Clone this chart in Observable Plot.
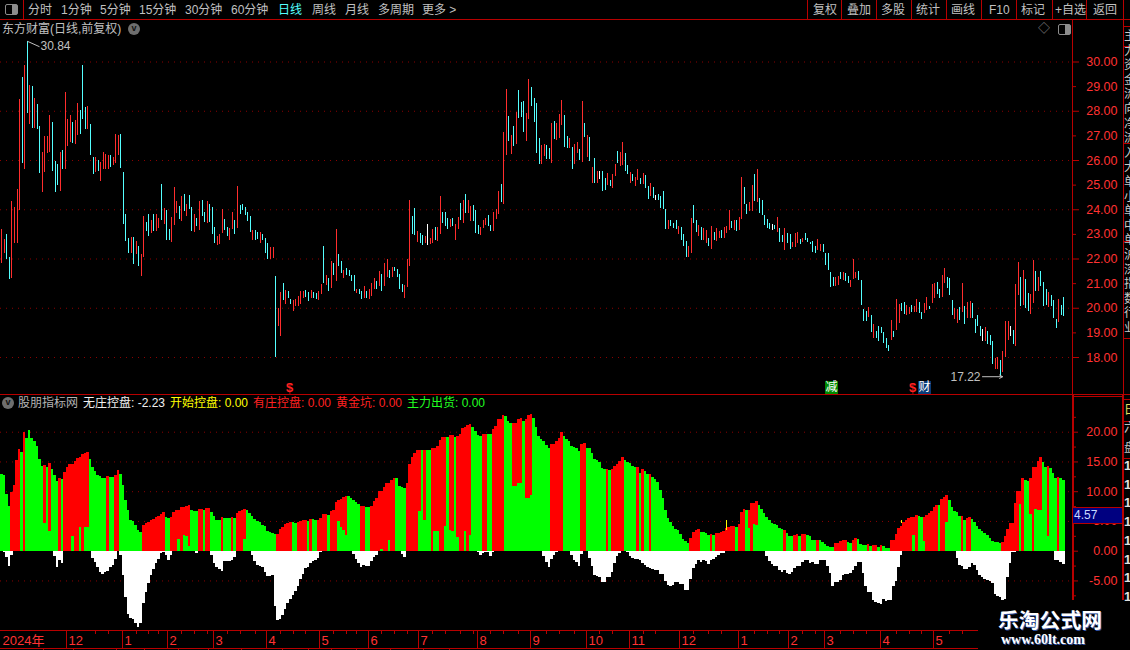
<!DOCTYPE html>
<html><head><meta charset="utf-8">
<script src="https://cdn.jsdelivr.net/npm/d3@7"></script>
<script src="https://cdn.jsdelivr.net/npm/@observablehq/plot@0.6"></script>
<style>
html,body{margin:0;padding:0;background:#000;width:1130px;height:650px;overflow:hidden}
#root{position:relative;width:1130px;height:650px;overflow:hidden;font-family:"Liberation Sans","Noto Sans CJK SC",sans-serif;font-size:12px}
.t{position:absolute;line-height:16px;white-space:nowrap}
.l{position:absolute;background:#b80000}
</style></head><body><div id="root"></div>
<script>
// ---------- daily candles (high / low / colour class) ----------
const highs=[23.19,22.78,22.99,22.07,24.33,24.10,24.82,28.46,29.37,29.85,30.84,29.04,29.0,28.53,28.26,27.4,26.34,26.96,26.96,27.81,27.53,25.95,25.82,26.34,26.39,28.75,27.65,27.81,27.53,27.61,28.3,28.02,29.85,28.14,28.18,27.45,26.11,26.14,26.0,25.9,26.34,26.26,26.2,26.22,26.11,27.04,27.0,27.04,25.53,23.82,22.84,22.88,22.88,22.72,22.51,22.19,23.74,23.49,23.82,23.57,23.82,23.82,23.65,25.03,24.06,23.98,23.2,23.7,24.92,24.35,24.14,24.55,24.63,24.23,24.59,24.1,23.82,23.65,24.35,24.39,23.9,24.35,24.23,24.1,23.29,22.92,23.0,24.02,23.61,23.29,23.25,23.9,23.57,24.96,24.18,24.23,24.1,23.9,23.74,23.17,23.17,23.08,23.08,23.0,22.84,22.64,22.47,22.47,21.29,19.99,
20.62,21.02,20.74,20.70,20.37,20.33,20.37,20.49,20.70,20.66,20.74,20.62,20.74,20.62,20.58,20.70,20.98,22.49,21.31,21.19,21.88,21.80,23.18,22.20,21.88,21.55,21.63,21.55,21.35,21.31,20.78,20.78,20.70,20.90,20.66,20.78,21.02,21.19,21.10,21.51,21.39,21.80,22.00,21.55,21.67,21.67,21.59,21.39,20.98,20.94,22.00,24.36,23.71,24.07,23.10,23.02,22.94,22.90,23.39,22.85,23.18,23.26,23.26,24.52,23.87,23.87,23.63,23.59,23.63,23.42,23.67,24.24,24.36,24.60,24.36,24.12,24.16,23.95,23.38,23.26,23.55,23.63,23.75,23.38,23.87,23.99,24.73,25.01,27.13,28.87,27.78,27.00,27.37,27.94,28.83,28.35,28.39,27.90,29.28,28.96,28.51,28.31,26.88,26.60,26.64,26.60,26.47,
27.49,27.57,27.49,27.86,28.43,27.82,26.96,26.88,26.52,26.64,26.72,26.43,28.39,27.49,27.00,26.92,25.70,26.07,25.54,25.54,25.54,25.25,25.46,25.17,25.42,25.82,26.35,26.31,26.72,26.27,25.78,25.50,25.42,25.29,25.62,25.25,25.46,25.38,24.93,25.05,24.89,24.56,24.60,24.52,24.73,23.99,23.55,23.55,23.46,23.55,23.34,23.26,22.98,22.73,22.49,23.63,24.16,23.55,23.38,23.26,23.22,23.14,22.85,23.34,23.06,23.22,23.10,23.14,23.26,23.34,23.95,23.51,23.55,23.55,23.67,25.29,24.89,24.20,24.28,24.97,25.42,25.62,24.44,24.36,23.75,23.59,23.46,23.42,23.38,23.67,23.22,22.94,23.22,23.02,22.98,22.65,23.02,23.06,22.81,22.85,23.02,22.85,22.69,22.73,22.49,22.81,
22.60,22.57,22.24,22.24,21.47,21.26,21.26,21.30,21.47,21.47,21.43,21.30,21.14,22.0,21.47,21.51,21.14,19.96,19.88,20.05,19.72,19.32,19.07,19.27,19.23,19.03,18.79,18.50,19.52,19.07,20.37,20.17,20.21,20.25,20.13,20.05,20.13,20.09,20.37,20.25,19.84,20.21,20.45,20.09,20.98,21.02,21.06,20.78,21.35,21.63,21.26,21.22,20.33,20.01,19.96,20.05,21.02,20.09,20.25,20.29,20.21,19.56,19.72,19.27,19.15,19.23,19.07,18.91,18.63,17.94,18.02,17.89,18.26,19.48,19.48,19.27,19.11,20.98,21.87,21.26,21.55,21.18,20.61,20.57,21.95,21.51,21.26,21.51,21.06,20.78,20.65,20.53,20.33,19.56,20.37,20.13,20.45];
const lows=[21.83,22.24,21.96,21.18,21.21,22.61,22.61,23.95,25.87,25.62,27.9,27.47,27.3,27.3,27.26,25.46,24.69,25.5,26.28,26.32,25.57,24.69,24.97,24.73,25.62,25.62,26.56,26.73,26.68,26.64,27.01,27.04,27.65,27.26,27.26,26.2,25.42,25.5,25.57,25.14,25.62,25.62,25.62,25.7,25.79,25.87,26.2,25.67,23.4,22.73,22.24,22.24,21.79,22.2,21.71,21.3,22.08,23.1,22.93,23.02,23.12,23.1,23.22,23.57,23.41,22.77,22.77,22.65,23.37,23.86,23.61,23.53,23.94,23.74,24.02,23.12,23.08,23.33,23.17,23.74,23.49,23.45,23.49,23.0,22.64,22.55,22.6,23.04,23.17,22.92,22.76,23.2,23.0,23.25,23.82,23.98,23.78,23.53,23.08,22.76,22.76,22.8,22.64,22.76,22.23,21.98,21.98,22.02,18.02,19.25,
18.87,20.33,20.17,20.41,20.17,19.88,20.09,20.09,20.17,20.41,20.45,20.29,20.41,20.41,20.37,20.33,20.54,21.02,20.94,20.70,20.82,21.35,21.10,21.71,21.43,21.19,21.35,21.27,21.10,20.66,20.58,20.54,20.37,20.41,20.41,20.37,20.49,20.78,20.78,20.90,20.70,20.90,21.23,21.19,21.23,21.51,21.23,20.78,20.62,20.41,20.86,21.71,22.98,22.94,22.65,22.61,22.53,22.61,22.53,22.57,22.61,22.77,22.73,22.98,23.46,23.30,23.18,23.26,23.30,22.77,23.18,23.55,23.46,23.83,23.83,23.51,23.51,23.02,22.98,22.94,23.22,23.38,23.34,23.10,23.10,23.59,23.79,24.28,24.20,26.19,26.76,26.23,26.56,26.64,27.69,27.74,27.13,26.76,27.65,28.18,27.53,26.27,25.82,25.82,26.15,26.03,26.03,
25.86,26.84,26.80,26.88,27.41,26.52,26.47,26.47,25.62,25.82,26.27,25.99,25.91,26.92,26.11,25.95,25.05,25.05,25.05,25.21,24.73,24.77,24.97,24.93,24.85,25.34,25.86,25.74,25.78,25.54,25.42,25.05,25.13,24.93,25.17,25.01,25.01,24.85,24.40,24.52,24.44,24.36,24.36,24.07,23.99,23.18,23.18,23.30,23.22,23.18,22.98,22.77,22.49,22.08,22.08,22.24,23.46,23.06,22.90,22.77,22.77,22.61,22.49,22.37,22.77,22.73,22.85,22.85,22.85,23.02,23.14,23.22,23.14,23.10,23.14,23.59,24.20,23.79,23.91,23.91,24.32,24.28,23.83,23.75,23.38,23.22,23.18,23.14,23.18,23.06,22.65,22.69,22.33,22.61,22.37,22.45,22.45,22.61,22.57,22.65,22.77,22.65,22.57,22.28,22.24,22.33,
22.32,22.28,21.75,21.55,20.86,20.90,20.90,20.94,21.18,21.14,21.10,21.02,20.86,21.18,21.22,21.14,20.13,19.48,19.48,19.64,19.03,18.79,18.79,18.63,18.99,18.58,18.38,18.26,18.71,18.83,19.11,19.40,19.88,19.76,19.72,19.76,19.84,19.84,19.84,19.80,19.56,19.80,19.92,19.96,20.21,20.41,20.57,20.41,20.45,21.02,20.82,20.53,19.72,19.56,19.40,19.52,19.84,19.36,19.60,19.60,19.60,18.99,19.27,18.87,18.67,18.67,18.54,18.50,17.73,17.53,17.53,17.22,17.41,17.98,18.71,18.87,18.54,18.46,20.53,20.09,20.13,20.01,19.88,19.76,20.21,20.70,20.70,20.90,20.09,20.13,20.05,20.09,19.60,19.19,19.44,19.72,19.68];
const kinds=("rrccrrrrcr crcrccrrrr cccrcrrrcr rcccrccrcr rrrcrrrccc crcrcrrccr crrcrccrrr crcrccrcrc crcccrrrcc rrcrcccccr ccrcccrrcr "
+"rcrccrrrrr ccrccrrcrc rcrccrcccc rccrcrrrcr crrcrccccr rrccrccrwr rcrrcccrcr rcrcrrcccr rrccrrrcrr crcrcccrrc cccrrcc "
+"rcrrrccrcr rcrcrcrcrw ccrcrrcrrc crcrrcrccr cwccccrccc rcccrrccrc rrcrcrrcrr rcrcrrccrr crcccccwcr ccrccrrrcr cccccr "
+"rcccccrrcr ccrrrccccr crccccccrc rrccrrcrrc crrcrrccrr cccrrcrcrr ccccwrcccr rcrrrwcrrc rccrrcrccc rcccrcc").replace(/\s/g,"");
// ---------- indicator panel ----------
const n=null;
const topVals=[12.9,12.8,9.5,7.5,9.9,11.0,15.2,17.1,16.6,20.0,18.9,20.3,18.9,18.4,17.6,15.4,14.3,14.4,14.1,14.7,13.7,12.7,11.7,12.2,12.0,13.2,14.1,14.6,14.6,15.1,15.5,15.7,16.3,16.5,16.6,15.4,14.1,13.4,12.8,12.5,12.3,12.3,12.5,12.4,12.4,12.8,13.6,12.9,11.0,8.6,6.8,5.2,5.0,4.4,3.5,3.1,4.4,4.6,4.9,5.1,5.3,5.7,5.9,6.1,6.5,5.7,5.5,5.7,6.5,6.8,6.8,7.3,7.3,7.5,7.7,6.8,6.7,6.6,7.0,7.0,6.8,7.2,7.2,6.5,5.8,5.1,5.1,5.7,5.5,5.5,5.5,5.7,5.5,6.3,6.6,6.8,7.0,6.8,6.3,5.8,5.3,5.0,4.8,4.3,4.1,3.3,3.1,3.0,2.8,2.8,3.6,4.0,4.5,4.6,4.9,4.8,4.6,4.9,5.0,5.1,5.1,5.0,5.3,5.3,5.1,5.1,5.5,6.1,6.1,6.0,6.7,6.8,8.2,8.5,8.7,9.0,9.2,9.2,8.9,8.5,8.2,7.8,7.5,7.5,7.3,7.3,7.5,8.3,8.9,10.0,10.0,10.7,11.4,11.4,11.9,12.2,12.2,10.9,10.7,10.5,11.4,14.5,15.7,16.4,16.9,17.0,16.9,16.9,16.9,16.9,17.2,17.3,17.6,18.6,19.1,19.1,19.1,19.4,19.4,19.1,19.3,19.6,20.6,20.8,21.1,21.3,20.8,20.1,19.4,19.3,19.6,19.6,19.6,19.6,20.4,21.0,22.1,22.1,22.8,22.6,21.8,21.5,21.5,21.5,22.1,22.3,21.8,22.1,22.8,23.0,22.3,20.8,19.3,18.8,18.4,17.8,17.3,17.9,18.0,18.4,18.9,19.9,19.3,18.8,18.4,17.6,17.4,17.3,16.8,17.9,18.1,17.3,17.3,16.4,15.4,15.2,14.9,13.9,13.7,13.7,13.6,13.7,14.2,14.6,15.1,15.7,15.2,14.9,14.7,14.2,14.1,14.1,13.1,13.7,13.4,12.9,12.9,12.4,12.0,11.5,10.2,8.9,6.8,5.5,4.8,4.1,3.6,3.5,2.8,2.0,1.6,1.3,2.1,3.1,3.5,3.6,3.1,3.1,3.0,2.6,2.8,2.6,3.0,3.0,3.1,3.3,3.8,4.0,4.1,4.1,4.0,4.5,6.5,7.0,6.8,6.8,8.0,8.0,8.3,7.7,7.0,6.3,5.7,5.2,4.6,4.5,4.3,3.8,3.6,3.5,3.0,2.5,2.5,2.6,2.8,2.5,2.8,2.8,2.6,2.5,1.8,1.8,1.8,1.8,1.5,1.1,0.8,0.7,0.7,1.3,1.3,1.6,1.8,1.8,1.5,1.3,1.8,2.1,2.0,1.1,1.0,1.0,1.1,0.8,1.0,1.0,0.7,1.0,0.8,0.4,0.4,1.8,1.8,2.8,3.8,4.1,4.8,5.2,5.5,5.7,5.7,6.0,5.8,5.7,5.7,6.0,6.3,6.7,7.3,7.7,7.7,8.7,9.0,9.4,8.5,7.3,6.7,6.5,5.8,5.8,5.2,5.5,5.7,5.3,4.8,4.1,3.6,3.3,3.0,2.6,2.1,1.6,1.5,1.5,1.3,1.5,2.5,3.6,4.6,4.6,8.0,10.0,10.0,12.2,11.9,11.7,12.2,14.1,14.1,15.1,15.7,14.9,14.1,14.2,13.9,13.1,12.2,12.4,12.2,11.9];
const redLows=[
n,n,n,n,0,0,0,0,n,0, n,n,n,n,n,n,n,4.6,n,3.3, n,n,n,0,n,0,0,0,2.5,0, 0,3.9,0,3.9,3.9,n,n,n,n,n,
n,n,0,n,n,0,0,n,n,n, n,n,n,n,n,n,0,0,0,0, 0,0,0,0,0,n,n,0,0,0, 2.0,0,2.6,2.4,0.8,n,n,n,0,0,
n,0,0,n,n,n,n,0,n,n, n,0,n,0,0,0,2.0,n,n,n, n,n,n,n,n,n,n,n,n,0, 0,0,0,0,0,n,n,0,0,0,
0,n,0,n,n,0,0,0,0,n, 0,0,0,5.0,4.0,3.5,2.6,n,n,n, n,n,0,0,n,n,0,0,0,0, 0.3,0,0,1.8,0,0,n,n,n,n,
0,0,0,0,0,6.7,n,5.2,n,n, 0,3.3,3.3,0,0,4.1,n,3.5,3.3,n, 2.3,0,0,3.3,0,2.6,n,n,n,n, 0,0,n,n,0,0,0,0,0,n,
n,n,10.9,10.9,11.4,11.4,n,8.9,8.9,9.4, n,n,n,n,n,n,n,0,0,0, 0,0,n,n,n,n,n,n,n,0, 0,n,n,n,n,n,n,n,n,0,
n,0,0,0,0,0,n,n,n,n, n,0,n,0,n,n,0,n,n,n, n,n,n,n,n,n,n,n,n,n, n,n,0,0,0,0,n,n,n,n,
0,n,0,0,0,0,0,0,0,0, n,0,0,0,n,3.8,0,4.5,4.3,n, n,n,n,n,n,n,n,n,n,0, n,n,n,0,0,n,0,0,n,n,
n,n,0,n,n,n,n,n,n,0, 0,0,0,0,n,n,0,0,n,n, n,n,0,n,0,0,n,0,n,n, n,0,0,0,0,0,0,0,0,0,
2.6,0,n,n,1.6,0,0,0,0,0, n,0,0,4.8,n,n,n,n,n,0, n,0,0,n,n,n,n,n,n,n, n,n,n,n,n,0,0,0,0,0,
0,0,7.8,0,n,n,6.2,0,7.0,6.8, 6.8,n,n,2.5,n,n,n,0,n,n];
const negVals=[
0,-0.2,-1.0,-2.6,-0.8,0,0,0,0,0, 0,0,0,0,0,0,0,0,0,0, 0,-0.9,-2.7,-1.6,-2.1,0,0,0,0,0, 0,0,0,0,0,0,-1.3,-1.9,-2.7,-3.6,
-3.9,-3.6,-3.4,-2.7,-2.4,-1.4,0,-0.7,-4.1,-7.8, -10.6,-11.3,-11.5,-12.2,-12.8,-12.2,-8.8,-6.9,-5.4,-4.1, -3.1,-2.1,-1.4,-0.4,-0.3,-0.7,-1.6,-0.7,0,0, 0,0,0,0,0,0,0,-0.4,0,0,
0,0,0,-0.7,-2.1,-2.7,-3.1,-3.4,-1.7,-1.7, -1.7,-1.6,-1.1,0,0,0,0,0,0,-0.7, -1.7,-2.4,-2.6,-2.7,-3.6,-4.3,-4.3,-4.1,-9.3,-11.7, -11.5,-10.8,-9.8,-8.8,-8.1,-7.5,-6.8,-5.9,-4.8,-3.9,
-2.9,-2.7,-2.1,-1.7,-1.6,-1.2,-0.2,0,0,0, 0,0,0,0,0,0,0,0,0,-0.6, -1.4,-2.1,-2.7,-2.4,-2.6,-2.6,-1.7,-1.1,-0.7,0, 0,0,0,0,0,0,0,0,-0.6,-1.1,
0,0,0,0,0,0,0,0,0,0, 0,0,0,0,0,0,0,0,0,0, 0,0,0,0,0,0,0,0,-0.2,-0.7, -0.4,-0.2,-0.2,-0.9,-0.2,0,0,0,0,0,
0,0,0,0,0,0,0,0,0,0, 0,0,0,0,-0.9,-1.9,-2.7,-1.4,-0.7,-0.2, 0,0,0,0,0,-0.7,-1.6,-1.9,-2.6,-0.6, 0,0,-1.2,-2.6,-4.1,-4.3,-4.4,-5.3,-5.3,-4.4,
-4.4,-3.6,-2.1,-0.9,-0.4,0,0,-0.3,-0.9,-1.2, -1.4,-1.4,-1.6,-2.1,-2.4,-2.7,-2.9,-3.1,-3.2,-3.2, -3.9,-3.9,-5.1,-5.8,-5.9,-5.8,-5.3,-5.3,-5.6,-5.6, -6.6,-6.6,-4.8,-2.9,-2.2,-1.6,-1.9,-1.6,-1.7,-2.2,
-1.6,-1.4,-1.1,-0.7,-0.4,-0.4,0,0,0,0, 0,0,0,0,0,0,0,0,0,0, 0,0,-0.9,-1.7,-2.2,-2.6,-2.6,-3.2,-3.6,-3.2, -3.8,-3.9,-3.6,-2.9,-2.6,-2.6,-1.9,-1.6,-1.6,-2.1,
-1.9,-2.2,-2.2,-1.6,-1.6,-1.6,-2.6,-3.8,-5.9,-5.3, -5.3,-4.9,-4.1,-3.9,-3.9,-3.8,-3.2,-2.6,-1.9,-1.9, -3.8,-5.9,-6.9,-6.9,-8.3,-8.6,-8.8,-9.0,-8.1,-8.5, -8.3,-8.3,-5.9,-5.1,-2.7,-0.7,0,0,0,0,
0,0,0,0,0,0,0,0,0,0, 0,0,0,0,0,0,0,-1.2,-2.4,-2.6, -3.1,-3.1,-2.7,-2.1,-2.4,-3.2,-4.1,-4.4,-4.8,-4.9, -5.1,-5.4,-7.3,-7.6,-7.8,-8.3,-8.1,-4.4,-2.1,-0.3,
-0.2,0,0,0,0,0,0,0,0,0, 0,0,0,0,0,0,-1.6,-1.6,-1.9,-2.23];
const yellowBars=[286,355], yellowTops=[5.2,5.1], yellowLows=[3.5,4.6];
// ---------- axes and labels ----------
const priceGrid=[18,20,22,24,26,28,30], priceOdd=[19,21,23,25,27,29];
const indTicks=[20,15,10,5,0,-5], indMinor=[22.5,17.5,12.5,7.5,2.5,-2.5,-7.5], indGrid=[20,15,10,5,-5];
const monthBars=[0,26,48,66,84,105,126,145,165,188,209,231,248,268,291,311,325,347,368];
const monthNames=["2024年","12","1","2","3","4","5","6","7","8","9","10","11","12","1","2","3","4","5"];
const weekBars=[37,42,53,58,62,71,76,81,89,94,100,110,115,120,131,136,140,150,155,160,170,175,181,186,193,198,204,215,220,226,236,241,253,258,273,279,284,297,302,307,316,321,331,336,341,353,358,363,374,379];
const toolsLeft=["分时","1分钟","5分钟","15分钟","30分钟","60分钟","日线","周线","月线","多周期","更多 >"];
const toolsRight=["复权","叠加","多股","统计","画线","F10","标记","+自选","返回"];
const legend=[["股朋指标网","#b4b4b4"],["无庄控盘: -2.23","#f0f0f0"],["开始控盘: 0.00","#ffff00"],["有庄控盘: 0.00","#ff2020"],["黄金坑: 0.00","#ff2020"],["主力出货: 0.00","#20ff20"]];

const RED="#ff3232",LINE="#b80000",DOT="#8c0000";
const root=document.getElementById("root");
const colorOf={r:"#ff2d2d",c:"#54ffff",w:"#ffffff"};
const bars=highs.map((h,i)=>({i,h,l:lows[i],c:colorOf[kinds[i]]||"#54ffff"}));
const cols=topVals.map((t,i)=>({i,t,r:redLows[i],w:negVals[i]}));
const xs={type:"linear",domain:[0,419],range:[1.3,1063.3],round:true,axis:null};
const base={width:1130,marginLeft:0,marginRight:58,marginTop:0,marginBottom:0,style:{background:"transparent",fontFamily:'"Liberation Sans","Noto Sans CJK SC",sans-serif',fontSize:"12px",overflow:"visible"}};
function add(svg,top){svg.style.position="absolute";svg.style.left="0";svg.style.top=top+"px";root.appendChild(svg);}
function text(s,x,cy,color,extra){const d=document.createElement("div");d.className="t";d.textContent=s;d.style.left=x+"px";d.style.top=(cy-8)+"px";d.style.color=color;if(extra)Object.assign(d.style,extra);root.appendChild(d);return d;}
function hl(x,y,w,c,h){const d=document.createElement("div");d.className="l";Object.assign(d.style,{left:x+"px",top:y+"px",width:w+"px",height:(h||1)+"px"});if(c)d.style.background=c;root.appendChild(d);}
function vl(x,y,h,c){const d=document.createElement("div");d.className="l";Object.assign(d.style,{left:x+"px",top:y+"px",width:"1px",height:h+"px"});if(c)d.style.background=c;root.appendChild(d);}
const gray="#c0c0c0";

// price panel
add(Plot.plot({...base,height:395,x:xs,y:{domain:[18,30],range:[357,61.5],axis:null},marks:[
  Plot.ruleY(priceGrid,{stroke:DOT,strokeDasharray:"1 5"}),
  Plot.ruleX(bars,{x:"i",y1:"l",y2:"h",stroke:"c",strokeWidth:1,shapeRendering:"crispEdges"}),
  Plot.axisY(priceGrid,{anchor:"right",tickSize:6,tickPadding:39,textAnchor:"end",tickFormat:d=>d.toFixed(2),stroke:LINE,fill:RED,fontSize:12.5,label:null}),
  Plot.axisY(priceOdd,{anchor:"right",tickSize:3,tickPadding:42,textAnchor:"end",tickFormat:d=>d.toFixed(2),stroke:LINE,fill:RED,fontSize:12.5,label:null}),
  Plot.text(["30.84"],{x:()=>10,y:()=>30.84,dx:13,dy:5,textAnchor:"start",fill:gray,fontSize:12}),
  Plot.link([0],{x1:()=>10,y1:()=>30.84,x2:()=>15,y2:()=>30.62,stroke:gray}),
  Plot.text(["17.22"],{x:()=>387,y:()=>17.22,dx:-2,textAnchor:"end",fill:gray,fontSize:12}),
  Plot.arrow([0],{x1:()=>387,y1:()=>17.22,x2:()=>394.8,y2:()=>17.22,stroke:gray,headLength:5,bend:0,strokeWidth:1}),
  Plot.dot(["减"],{x:()=>327.5,y:()=>16.78,symbol:"square",r:7.3,fill:"#008a00"}),
  Plot.text(["减"],{x:()=>327.5,y:()=>16.78,fill:"#fff",fontSize:12}),
  Plot.text(["$","$"],{x:(d,i)=>[113.7,359.5][i],y:()=>16.78,fill:"#ff2020",fontSize:13,fontWeight:"bold"}),
  Plot.dot(["财"],{x:()=>364,y:()=>16.78,symbol:"square",r:7.3,fill:"#0a3c78"}),
  Plot.text(["财"],{x:()=>364,y:()=>16.78,fill:"#fff",fontSize:12})
]}),0);

// indicator panel
add(Plot.plot({...base,height:236,x:xs,y:{domain:[0,20],range:[155.7,36.7],axis:null},marks:[
  Plot.ruleY(indGrid,{stroke:DOT,strokeDasharray:"1 5"}),
  Plot.rect(cols,{x1:d=>d.i-.5,x2:d=>d.i+.5,y1:()=>0,y2:"t",fill:"#00ff00",shapeRendering:"crispEdges"}),
  Plot.rect(cols.filter(d=>d.r!==null),{x1:d=>d.i-.5,x2:d=>d.i+.5,y1:"r",y2:"t",fill:"#ff0000",shapeRendering:"crispEdges"}),
  Plot.rect(cols.filter(d=>d.w<0),{x1:d=>d.i-.5,x2:d=>d.i+.5,y1:()=>0,y2:"w",fill:"#ffffff",shapeRendering:"crispEdges"}),
  Plot.ruleX(yellowBars,{x:d=>d,y1:(d,i)=>yellowLows[i],y2:(d,i)=>yellowTops[i],stroke:"#ffff00",shapeRendering:"crispEdges"}),
  Plot.axisY(indTicks,{anchor:"right",tickSize:5,tickPadding:40,textAnchor:"end",tickFormat:d=>d.toFixed(2),stroke:LINE,fill:RED,fontSize:12.5,label:null}),
  Plot.axisY(indMinor,{anchor:"right",tickSize:3,tickFormat:()=>"",stroke:LINE,label:null})
]}),395);

// date axis
add(Plot.plot({...base,marginRight:0,width:978,height:18,x:xs,y:{domain:[0,1],range:[0,17],axis:null},marks:[
  Plot.ruleX(monthBars.slice(1),{x:d=>d-.5,y1:()=>0,y2:()=>1,stroke:LINE,shapeRendering:"crispEdges"}),
  Plot.ruleX(weekBars,{x:d=>d,y1:()=>0,y2:()=>0.16,stroke:LINE,shapeRendering:"crispEdges"}),
  Plot.text(monthNames,{x:(d,i)=>monthBars[i]-.5,y:()=>.55,dx:2,textAnchor:"start",fill:RED,fontSize:13})
]}),631);

// frame lines
hl(0,19,1130);hl(0,394,1130);hl(1073,396,50);hl(0,630,978);hl(0,648,978);
vl(23,0,19);
[807,841,876,911,946,981,1016,1052,1086,1123].forEach(x=>vl(x,0,19));
vl(1072,20,375);vl(1072,395,205);vl(1073,395,205);vl(1123,20,580);vl(1122,395,205);
[26,46,143,241,338,399,421,458].forEach(y=>hl(1123,y,7));
[43,73,116,144,178,208,241,282,308,331,356,390,423,449].forEach(x=>hl(x,649,1,null,1));

// toolbar
const leftX=[28,61,100,139,185,231,278,312,345,378,422];
toolsLeft.forEach((s,i)=>text(s,leftX[i],10,s==="日线"?"#54ffff":gray));
const rightX=[813,847,881,916,951,989,1021,1055,1093];
toolsRight.forEach((s,i)=>text(s,rightX[i],10,gray));
// small icons
const ic=document.createElement("div");Object.assign(ic.style,{position:"absolute",left:"5px",top:"4px",width:"11px",height:"9px",border:"1px solid #8c8c8c",borderRadius:"2px",background:"linear-gradient(90deg,#000 55%,#8c8c8c 55%)"});root.appendChild(ic);
const ic2=ic.cloneNode();Object.assign(ic2.style,{left:"1058px",top:"24px"});root.appendChild(ic2);
function circ(x,y){const c=document.createElement("div");Object.assign(c.style,{position:"absolute",left:x+"px",top:y+"px",width:"12px",height:"12px",borderRadius:"6px",background:"#6e6e6e",color:"#111",font:"bold 9px/11px 'Liberation Sans'",textAlign:"center"});c.textContent="v";root.appendChild(c);}
circ(128,23);circ(2,397);
text("东方财富(日线,前复权)",2,29,gray);
text("◇",1038,29,"#808080");
// indicator legend
const legX=[18,83,170,253,336,407];
legend.forEach(([s,c],i)=>text(s,legX[i],403,c));
// current value box
const box=document.createElement("div");Object.assign(box.style,{position:"absolute",left:"1073px",top:"507px",width:"49px",height:"15px",background:"#000080",borderTop:"1px solid #b80000",borderBottom:"1px solid #b80000"});root.appendChild(box);
text("4.57",1074,515,"#c8d8ff");
// clipped side list
const sideChars=["主","力","资","金","流","向","净","流","入","大","单","小","单","中","单","沪","深","指","数","行","业"];
sideChars.forEach((s,i)=>text(s,1124,36+i*14.6,"#c8c8c8"));
text("日",1124,410,"#e8e060");
text("六",1124,428,gray);text("盘",1124,448,gray);
for(let k=0;k<8;k++)text("1",1124,466+k*18.7,"#e0e0e0",{fontWeight:"bold",fontSize:"13px"});
// watermark
text("乐淘公式网",998,619,"#fff",{fontSize:"20.8px",fontWeight:"bold",lineHeight:"16px",textShadow:"1px 1px 0 #3050a0",fontFamily:'"Noto Sans CJK SC"'});
text("www.60lt.com",1001,640,"#fff",{fontSize:"14px",fontWeight:"bold",fontFamily:'"Liberation Serif"',textShadow:"1px 1px 0 #3050a0"});
</script></body></html>
